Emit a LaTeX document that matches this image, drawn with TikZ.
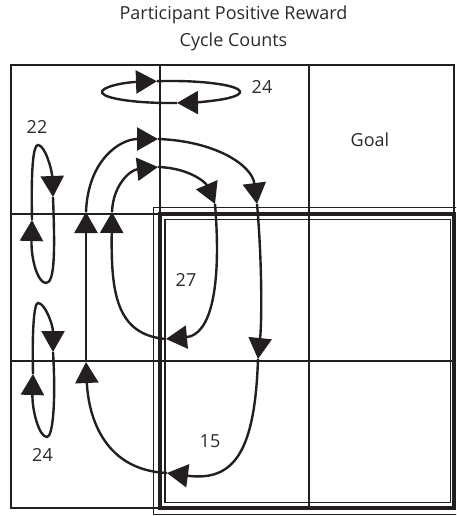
\documentclass[tikz,border=0pt]{standalone}
\usepackage{fontspec}
\setmainfont{Open Sans}
\usetikzlibrary{arrows.meta}
\definecolor{ink}{HTML}{231F20}
\definecolor{txt}{HTML}{2A2A2A}
\begin{document}
\begin{tikzpicture}[x=1pt,y=-1pt,
  gridline/.style={draw=ink,line width=1.1pt},
  thinframe/.style={draw=ink,line width=1.3pt},
  thickframe/.style={draw=ink,line width=3.4pt},
  cyc/.style={draw=ink,line width=2.4pt,-{Triangle[length=21pt,width=23pt]}},
  lbl/.style={text=txt,font=\fontsize{18}{21}\selectfont,inner sep=0pt,anchor=base},
]
\useasboundingbox (0,0) rectangle (456,516);
\clip (0,0) rectangle (456,516);
% grid
\draw[gridline] (11,65) rectangle (454,508);
\draw[gridline] (160,65) -- (160,508);
\draw[gridline] (309,65) -- (309,508);
\draw[gridline] (11,214) -- (454,214);
\draw[gridline] (11,361) -- (454,361);
% goal frame
\draw[thinframe] (153.5,207.5) rectangle (462,514.5);
\draw[thickframe] (160,214) rectangle (454,508);
\draw[thinframe] (165,219.5) rectangle (450.5,502.5);
% labels
\node[lbl] (title1) at (233.5,20) {Participant Positive Reward};
\node[lbl] (title2) at (233.5,47) {Cycle Counts};
\node[lbl] (goal) at (370,146) {Goal};
\node[lbl] (n24a) at (262,94) {24};
\node[lbl] (n22) at (37,133) {22};
\node[lbl] (n27) at (186,286) {27};
\node[lbl] (n15) at (210,447) {15};
\node[lbl] (n24b) at (42.5,461) {24};
% coordinates
\coordinate (q1) at (86,362);
\coordinate (q2) at (86,212);
\coordinate (q3) at (158,139);
\coordinate (q4) at (257,204);
\coordinate (q5) at (258,359);
\coordinate (q6) at (167,473);
\coordinate (p1) at (112,212);
\coordinate (p2) at (158,167);
\coordinate (p3) at (215,204);
\coordinate (p4) at (166,339);
\coordinate (l1) at (32,220);
\coordinate (r1) at (53,197);
\coordinate (l2) at (33,374);
\coordinate (r2) at (53,352);
\coordinate (e1) at (177.0,103.0);
\coordinate (e2) at (157.0,81.2);
% top self loop
\draw[cyc] (e1) arc[start angle=85, end angle=258.3, x radius=69, y radius=11];
\draw[cyc] (e2) arc[start angle=258.3, end angle=445, x radius=69, y radius=11];
% left loops
\draw[cyc] (r1) .. controls +(2,53) and +(9,0) .. (46,283) .. controls +(-8,0) and +(-1,40) .. (l1);
\draw[cyc] (l1) .. controls +(-1,-50) and +(-5,0) .. (38,145) .. controls +(7,0) and +(-1,-27) .. (r1);
\draw[cyc] (r2) .. controls +(3,48) and +(6,0) .. (47,437) .. controls +(-8,0) and +(-1,36) .. (l2);
\draw[cyc] (l2) .. controls +(-1,-44) and +(-4,0) .. (38,303) .. controls +(7,0) and +(0,-27) .. (r2);
% big cycle
\draw[cyc] (q6) .. controls +(-67,-3) and +(2,48) .. (q1);
\draw[cyc] (q1) -- (q2);
\draw[cyc] (q2) .. controls +(2,-52) and +(-38,0) .. (q3);
\draw[cyc] (q3) .. controls +(57,2) and +(-5,-39) .. (q4);
\draw[cyc] (q4) .. controls +(5,56) and +(4,-39) .. (q5);
\draw[cyc] (q5) .. controls +(-3,91) and +(68,9) .. (q6);
% inner cycle
\draw[cyc] (p4) .. controls +(-51,-4) and +(-1,78) .. (p1);
\draw[cyc] (p1) .. controls +(1,-27) and +(-28,3) .. (p2);
\draw[cyc] (p2) .. controls +(32,1) and +(-9,-21) .. (p3);
\draw[cyc] (p3) .. controls +(7,86) and +(44,-4) .. (p4);
\end{tikzpicture}
\end{document}
